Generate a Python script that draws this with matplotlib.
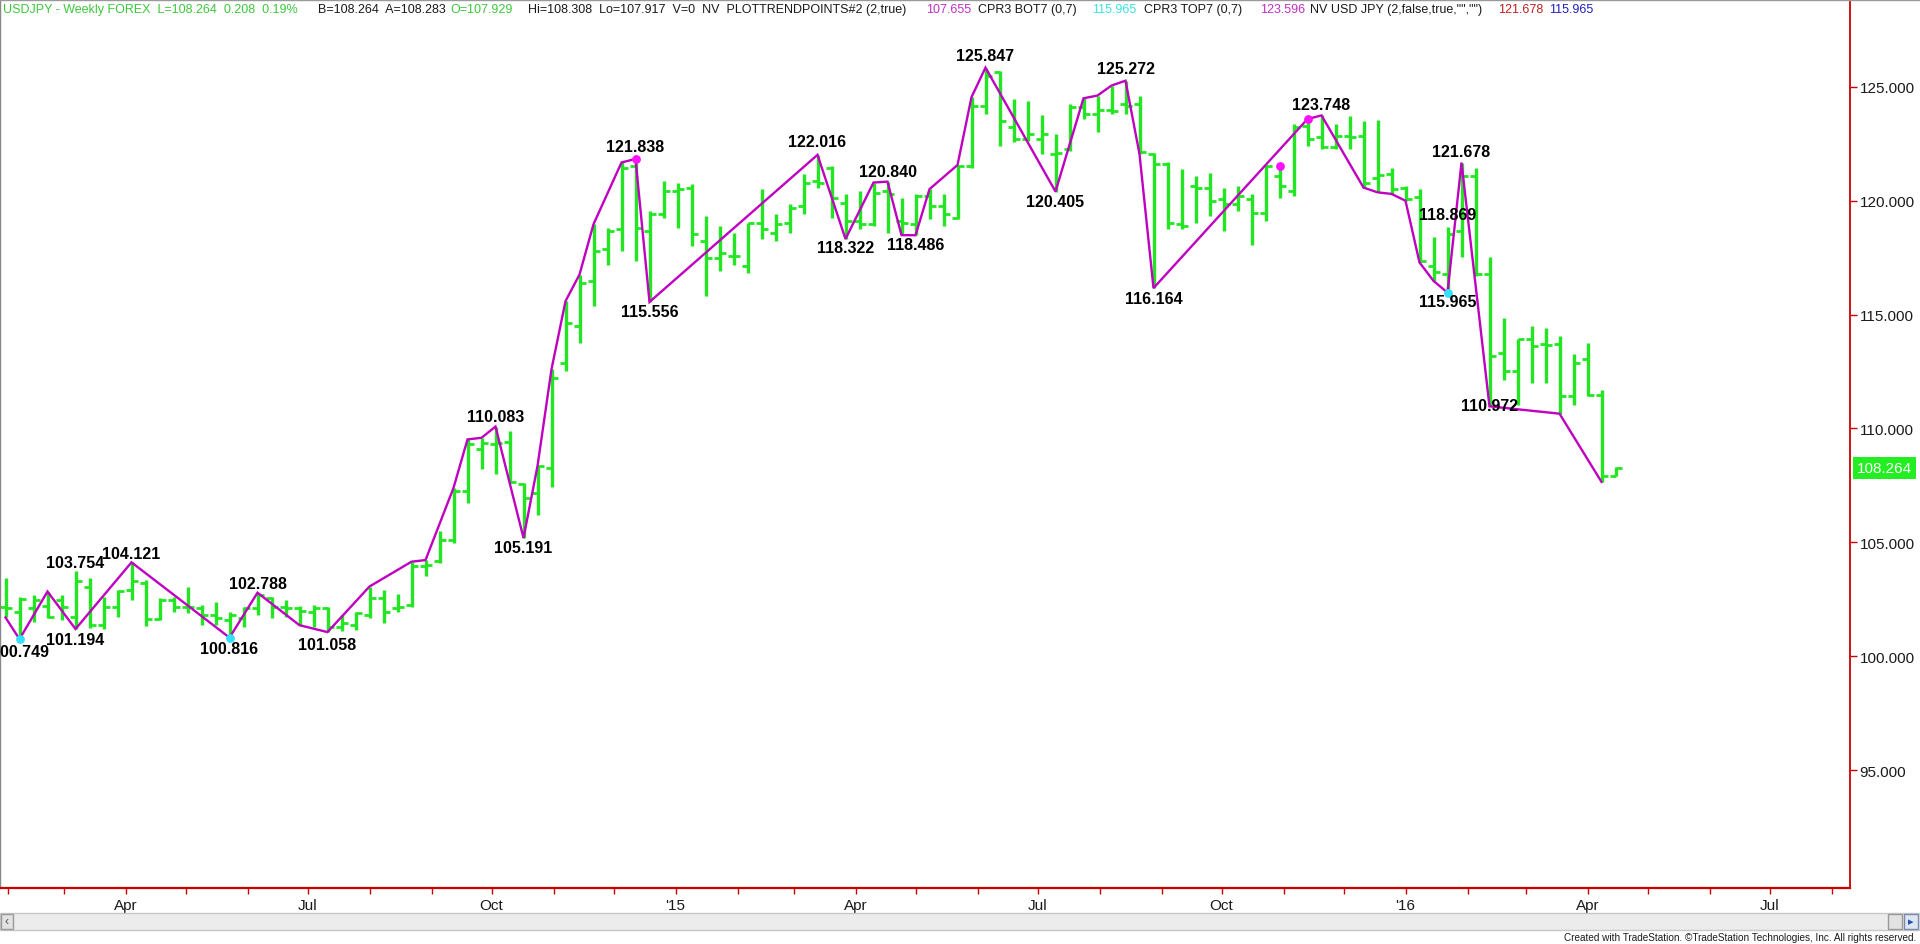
import matplotlib
matplotlib.use('Agg')
import matplotlib.pyplot as plt
import matplotlib.dates as mdates
import matplotlib.transforms as mtransforms
from matplotlib.patches import Rectangle
from matplotlib.lines import Line2D
from matplotlib.ticker import FuncFormatter
import pandas as pd
import numpy as np

plt.rcParams['font.family'] = ['Liberation Sans', 'DejaVu Sans']

# ---------------- data ----------------
dates = pd.date_range('2014-01-31', periods=116, freq='W-FRI')

opens = [102.15, 101.95, 102.10, 102.20, 102.45, 101.70, 103.06, 101.37, 102.18, 102.90,
         103.20, 101.62, 102.47, 102.15, 102.11, 101.82, 101.60, 101.67, 102.11, 102.55,
         102.18, 102.12, 101.96, 102.11, 101.30, 101.37, 101.81, 102.55, 102.11, 102.25,
         103.95, 104.16, 105.12, 107.24, 109.08, 109.30, 109.40, 107.55, 107.17, 108.26,
         112.88, 114.49, 116.47, 117.86, 118.75, 121.54, 118.67, 119.41, 120.44, 120.58,
         118.23, 117.50, 117.57, 117.13, 119.04, 118.60, 119.04, 119.78, 120.88, 121.46,
         119.92, 119.11, 118.97, 120.43, 119.11, 118.97, 120.21, 119.77, 119.26, 121.54,
         124.18, 125.65, 123.22, 122.71, 122.71, 122.05, 122.27, 124.10, 123.81, 124.00,
         124.25, 124.25, 122.05, 121.61, 118.97, 120.65, 120.58, 120.07, 119.85, 120.07,
         119.48, 121.10, 120.43, 123.30, 122.78, 122.34, 122.86, 122.86, 121.00, 121.17,
         120.56, 120.15, 117.14, 116.78, 118.68, 121.10, 116.78, 113.33, 112.52, 113.91,
         113.69, 113.69, 111.42, 113.03, 111.49, 107.929]
highs = [103.43, 102.60, 102.70, 102.84, 102.69, 103.754, 103.43, 102.62, 102.91, 104.121,
         103.36, 102.55, 102.62, 103.06, 102.26, 102.40, 101.96, 102.18, 102.788, 102.62,
         102.45, 102.22, 102.25, 102.18, 101.81, 101.96, 103.06, 102.91, 102.72, 104.15,
         104.22, 105.49, 107.39, 109.52, 109.59, 110.083, 109.89, 107.61, 108.35, 112.60,
         115.59, 116.76, 118.97, 118.82, 121.68, 121.838, 119.55, 120.88, 120.80, 120.73,
         119.33, 118.89, 118.60, 119.04, 120.51, 119.41, 119.85, 121.17, 122.016, 121.54,
         120.29, 120.43, 120.80, 120.840, 120.14, 120.29, 120.51, 120.29, 121.57, 124.55,
         125.847, 125.72, 124.47, 124.40, 123.77, 122.93, 124.25, 124.50, 124.62, 125.06,
         125.272, 124.62, 122.08, 121.68, 121.39, 121.10, 121.24, 120.58, 120.65, 120.29,
         121.58, 121.39, 123.37, 123.596, 123.748, 123.37, 123.74, 123.52, 123.55, 121.46,
         120.66, 120.52, 118.39, 118.869, 121.678, 121.46, 117.51, 114.87, 113.95, 114.50,
         114.43, 114.06, 113.25, 113.77, 111.71, 108.308]
lows = [101.74, 100.749, 101.52, 101.67, 101.60, 101.194, 101.25, 101.20, 101.70, 102.47,
        101.32, 101.60, 101.93, 101.89, 101.38, 101.38, 100.816, 101.30, 101.82, 101.67,
        101.74, 101.36, 101.30, 101.058, 101.12, 101.15, 101.67, 101.45, 101.96, 102.18,
        103.50, 104.09, 104.97, 106.73, 108.20, 107.98, 107.61, 105.191, 106.22, 107.45,
        112.51, 113.76, 115.37, 117.20, 117.79, 117.35, 115.556, 119.26, 118.82, 118.01,
        115.81, 116.91, 117.20, 116.84, 118.31, 118.23, 118.60, 119.41, 120.58, 119.26,
        118.322, 118.75, 118.89, 118.60, 118.49, 118.486, 119.19, 118.89, 119.20, 121.46,
        123.81, 122.42, 122.56, 122.62, 122.05, 120.405, 122.20, 123.59, 123.00, 123.81,
        123.81, 122.05, 116.164, 118.75, 118.75, 119.04, 119.33, 118.67, 119.55, 118.04,
        119.11, 120.14, 120.21, 122.42, 122.27, 122.27, 122.27, 120.58, 120.37, 120.30,
        120.00, 117.29, 116.48, 115.965, 117.51, 116.70, 110.972, 112.15, 111.04, 112.01,
        112.01, 110.65, 111.05, 111.42, 107.655, 107.917]
closes = [102.10, 102.50, 102.45, 101.70, 102.15, 103.28, 101.37, 102.18, 102.85, 103.28,
          101.62, 102.47, 102.18, 102.18, 101.82, 101.67, 101.82, 102.11, 102.70, 102.18,
          102.11, 101.98, 102.11, 101.30, 101.45, 101.89, 102.55, 101.96, 102.18, 103.94,
          104.02, 105.12, 107.24, 109.30, 109.37, 109.37, 107.65, 106.95, 108.35, 112.22,
          114.64, 116.40, 117.79, 118.67, 121.46, 118.82, 119.41, 120.44, 120.51, 118.53,
          117.50, 117.72, 117.57, 119.04, 118.75, 118.97, 119.70, 120.80, 120.80, 120.14,
          119.11, 118.97, 120.36, 120.29, 119.04, 120.21, 119.77, 119.41, 121.54, 124.18,
          125.50, 123.52, 122.71, 122.93, 122.93, 122.10, 124.10, 123.81, 124.00, 123.96,
          124.18, 122.12, 121.61, 119.04, 118.89, 120.58, 119.99, 119.85, 120.21, 119.48,
          121.54, 120.65, 123.22, 122.71, 122.34, 122.86, 122.80, 120.80, 121.15, 120.52,
          120.08, 117.36, 116.85, 118.54, 121.10, 116.78, 113.18, 112.52, 113.91, 113.62,
          113.65, 111.42, 112.89, 111.49, 107.90, 108.264]

# zig-zag trend line vertices (bar index, price)
trend_idx = [0, 1, 3, 5, 9, 16, 18, 21, 23, 26, 29, 30, 32, 33, 34, 35, 37, 38, 39, 40,
             41, 42, 44, 45, 46, 58, 60, 62, 63, 64, 65, 66, 68, 69, 70, 75, 77, 78, 79, 80,
             81, 82, 93, 94, 97, 98, 99, 100, 101, 102, 103, 104, 106, 111, 114]
trend_px = [101.70, 100.749, 102.84, 101.194, 104.121, 100.816, 102.788, 101.36, 101.058,
            103.06, 104.15, 104.22, 107.39, 109.52, 109.59, 110.083, 105.191, 108.35, 112.60,
            115.59, 116.76, 118.97, 121.68, 121.838, 115.556, 122.016, 118.322, 120.80, 120.840,
            118.49, 118.486, 120.51, 121.57, 124.55, 125.847, 120.405, 124.50, 124.62, 125.06,
            125.272, 122.05, 116.164, 123.59, 123.748, 120.58, 120.37, 120.30, 120.00, 117.29,
            116.48, 115.965, 121.678, 110.972, 110.65, 107.655]

# pivot labels
label_text = ['100.749', '101.194', '103.754', '104.121', '100.816', '102.788', '101.058',
              '110.083', '105.191', '121.838', '115.556', '122.016', '118.322', '120.840',
              '118.486', '125.847', '120.405', '125.272', '116.164', '123.748', '121.678',
              '118.869', '115.965', '110.972']
label_idx = [1, 5, 5, 9, 16, 18, 23, 35, 37, 45, 46, 58, 60, 63, 65, 70, 75, 80, 82, 94,
             104, 103, 103, 106]
label_price = [100.749, 101.194, 103.754, 104.121, 100.816, 102.788, 101.058, 110.083,
               105.191, 121.838, 115.556, 122.016, 118.322, 120.840, 118.486, 125.847,
               120.405, 125.272, 116.164, 123.748, 121.678, 118.869, 115.965, 110.972]
label_dy = [-12, -11, 8, 9, -11, 9, -12, 10, -10, 12, -10, 13, -9, 10, -9, 12, -10, 12, -10,
            11, 11, 12, -9, 1]

# CPR dots
top_idx = [45, 91, 93]
top_px = [121.838, 121.52, 123.596]
bot_idx = [1, 16, 103]
bot_px = [100.749, 100.816, 115.965]

last_price = 108.264

# ---------------- figure ----------------
W, H = 1920, 945
fig = plt.figure(figsize=(W / 100, H / 100), dpi=100)
fig.patch.set_facecolor('white')
ax = fig.add_axes([0, (H - 889) / H, 1850 / W, 889 / H])

bar_green = '#22e622'
red = '#cc0000'

x = mdates.date2num(dates)
ax.vlines(x, lows, highs, color=bar_green, lw=2.4, zorder=2)
ax.hlines(opens, x - 3.0, x, color=bar_green, lw=2.0, zorder=2)
ax.hlines(closes, x, x + 3.0, color=bar_green, lw=2.0, zorder=2)

ax.plot(x[trend_idx], trend_px, color='#c000c0', lw=1.7, zorder=3, solid_joinstyle='miter')
ax.scatter(x[top_idx], top_px, s=40, color='#ff10ff', zorder=4, linewidths=0)
ax.scatter(x[bot_idx], bot_px, s=40, color='#33e0ff', zorder=4, linewidths=0)

for t, i, p, dy in zip(label_text, label_idx, label_price, label_dy):
    ax.annotate(t, xy=(x[i], p), xytext=(0, dy), textcoords='offset pixels',
                ha='center', va='center', fontsize=11.5, fontweight='bold',
                color='black', zorder=5, annotation_clip=False)

# scales
jan15 = mdates.date2num(pd.Timestamp('2015-01-01'))
ax.set_xlim(jan15 - 337.75, jan15 + 587.25)
ax.set_ylim(89.82, 128.86)

# right price axis
ax.yaxis.set_ticks_position('right')
ax.set_yticks([95, 100, 105, 110, 115, 120, 125])
ax.yaxis.set_major_formatter(FuncFormatter(lambda v, p: '%.3f' % v))
ax.tick_params(axis='y', which='both', direction='out', length=5, width=1, color=red,
               labelsize=11, labelcolor='#1a1a1a', pad=2)

# bottom date axis
ax.xaxis.set_major_locator(mdates.MonthLocator(bymonth=[1, 4, 7, 10]))
ax.xaxis.set_minor_locator(mdates.MonthLocator())


def fmt_date(v, pos):
    d = mdates.num2date(v)
    if d.month == 1:
        return "'" + d.strftime('%y')
    return d.strftime('%b')


ax.xaxis.set_major_formatter(FuncFormatter(fmt_date))
ax.tick_params(axis='x', which='both', direction='out', length=4, width=1, color=red,
               labelsize=11, labelcolor='#1a1a1a', pad=3)

ax.spines['top'].set_visible(False)
ax.spines['left'].set_color('#888888')
ax.spines['left'].set_linewidth(1)
ax.spines['right'].set_color(red)
ax.spines['right'].set_linewidth(1.3)
ax.spines['bottom'].set_color(red)
ax.spines['bottom'].set_linewidth(1.6)

# last price tag
trans = mtransforms.blended_transform_factory(ax.transAxes, ax.transData)
trans = mtransforms.offset_copy(trans, fig=fig, x=7, y=0, units='dots')
ax.text(1.0, last_price, '%.3f' % last_price, transform=trans, ha='left', va='center',
        fontsize=11, color='white', zorder=6, clip_on=False,
        bbox=dict(boxstyle='square,pad=0.25', facecolor='#22ee22', edgecolor='none'))

# header
hy = 1 - 10 / H
header = [
    (3, 'USDJPY - Weekly FOREX  L=108.264  0.208  0.19%', '#3cc83c'),
    (318, 'B=108.264  A=108.283', '#1a1a1a'),
    (450, 'O=107.929', '#3cc83c'),
    (528, 'Hi=108.308  Lo=107.917  V=0  NV  PLOTTRENDPOINTS#2 (2,true)', '#1a1a1a'),
    (926, '107.655', '#c030c0'),
    (978, 'CPR3 BOT7 (0,7)', '#1a1a1a'),
    (1092, '115.965', '#40e0e0'),
    (1144, 'CPR3 TOP7 (0,7)', '#1a1a1a'),
    (1260, '123.596', '#c030c0'),
    (1310, 'NV USD JPY (2,false,true,"","")', '#1a1a1a'),
    (1498, '121.678', '#c02020'),
    (1549, '115.965', '#2020c0'),
]
for hx, txt, col in header:
    fig.text(hx / W, hy, txt, ha='left', va='center', fontsize=9.0, color=col)

fig.add_artist(Line2D([0, 1], [1 - 0.5 / H, 1 - 0.5 / H], transform=fig.transFigure,
                      color='#9a9a9a', lw=1))

# scrollbar
sb_y0 = (H - 931) / H
sb_h = 17 / H
fig.add_artist(Rectangle((0, sb_y0), 1, sb_h, transform=fig.transFigure,
                         facecolor='#ececec', edgecolor='#c8c8c8', lw=1))
fig.add_artist(Rectangle((1 / W, sb_y0 + 1 / H), 12 / W, sb_h - 2 / H, transform=fig.transFigure,
                         facecolor='#e2e2e2', edgecolor='#9a9a9a', lw=1))
fig.text(7 / W, sb_y0 + sb_h / 2, '‹', ha='center', va='center', fontsize=9, color='#555555')
fig.add_artist(Rectangle((1888 / W, sb_y0 + 1 / H), 14 / W, sb_h - 2 / H, transform=fig.transFigure,
                         facecolor='#e2e2e2', edgecolor='#9a9a9a', lw=1))
fig.add_artist(Rectangle((1904 / W, sb_y0 + 1 / H), 14 / W, sb_h - 2 / H, transform=fig.transFigure,
                         facecolor='#dde6f2', edgecolor='#7a8aa8', lw=1))
fig.text(1911 / W, sb_y0 + sb_h / 2, '▸', ha='center', va='center', fontsize=8, color='#2050b0',
         family=['DejaVu Sans'])

# footer
fig.text(1916 / W, (H - 938) / H,
         'Created with TradeStation. ©TradeStation Technologies, Inc. All rights reserved.',
         ha='right', va='center', fontsize=7.2, color='#1a1a1a')

fig.savefig('out.png', dpi=100, facecolor='white')
